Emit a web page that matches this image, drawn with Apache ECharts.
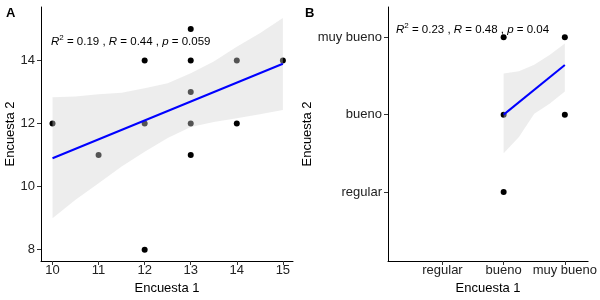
<!DOCTYPE html>
<html>
<head>
<meta charset="utf-8">
<script src="https://cdn.jsdelivr.net/npm/echarts@6/dist/echarts.min.js"></script>
<style>
  html, body { margin: 0; padding: 0; background: #fff; }
  #chart { width: 600px; height: 300px; }
</style>
</head>
<body>
<div id="chart"></div>
<script>
  // Panel A: numeric scores
  var ticksAx = [10, 11, 12, 13, 14, 15]
  var ticksAy = [8, 10, 12, 14]
  var pointsA = [[10, 12], [11, 11], [12, 14], [12, 12], [12, 8], [13, 15], [13, 14],
    [13, 13], [13, 12], [13, 11], [14, 14], [14, 12], [15, 14]]
  var fitAx = [10, 15]
  var fitAy = [10.9, 13.9]
  var bandAx = [10, 10.5, 11, 11.5, 12, 12.5, 13, 13.5, 14, 14.5, 15]
  var bandAlo = [9.0, 9.58, 10.11, 10.64, 11.11, 11.54, 11.89, 12.05, 12.17, 12.3, 12.43]
  var bandAhi = [12.84, 12.86, 12.93, 12.98, 13.12, 13.28, 13.6, 13.97, 14.44, 14.87, 15.35]

  // Panel B: ordered categories coded 1..3
  var levels = ['regular', 'bueno', 'muy bueno']
  var levelCodes = [1, 2, 3]
  var pointsB = [[2, 3], [2, 2], [2, 1], [3, 3], [3, 2]]
  var fitBx = [2, 3]
  var fitBy = [2.0, 2.64]
  var bandBx = [2, 2.25, 2.5, 2.75, 3]
  var bandBlo = [1.5, 1.71, 2.01, 2.14, 2.3]
  var bandBhi = [2.53, 2.56, 2.645, 2.77, 2.92]

  var textColor = '#222'
  var font = 'Liberation Sans, Arial, sans-serif'

  function zip(a, b) {
    return a.map(function (v, i) { return [v, b[i]] })
  }

  function bandSeries(idx, xs, lo, hi) {
    return {
      type: 'custom',
      xAxisIndex: idx,
      yAxisIndex: idx,
      clip: true,
      z: 3,
      silent: true,
      data: xs.map(function (x, i) { return [x, lo[i], hi[i]] }),
      renderItem: function (params, api) {
        if (params.dataIndex !== 0) return
        var pts = []
        for (var i = 0; i < xs.length; i++) pts.push(api.coord([xs[i], hi[i]]))
        for (var j = xs.length - 1; j >= 0; j--) pts.push(api.coord([xs[j], lo[j]]))
        return {
          type: 'polygon',
          shape: { points: pts },
          style: { fill: 'rgba(211,211,211,0.4)' }
        }
      }
    }
  }

  function xAxisOf(idx, min, max, ticks, fmt) {
    return {
      type: 'value', gridIndex: idx, min: min, max: max,
      name: 'Encuesta 1', nameLocation: 'middle', nameGap: 18,
      nameTextStyle: { fontSize: 13, color: '#000', fontFamily: font },
      axisLine: { onZero: false, lineStyle: { color: '#000', width: 1 } },
      axisTick: { length: 4, customValues: ticks, lineStyle: { color: '#333' } },
      axisLabel: { customValues: ticks, formatter: fmt, fontSize: 13, color: textColor, fontFamily: font, margin: 3 },
      splitLine: { show: false }
    }
  }

  function yAxisOf(idx, min, max, ticks, fmt, gap) {
    return {
      type: 'value', gridIndex: idx, min: min, max: max,
      name: 'Encuesta 2', nameLocation: 'middle', nameGap: gap,
      nameTextStyle: { fontSize: 13, color: '#000', fontFamily: font },
      axisLine: { show: true, onZero: false, lineStyle: { color: '#000', width: 1 } },
      axisTick: { show: true, length: 4, customValues: ticks, lineStyle: { color: '#333' } },
      axisLabel: { customValues: ticks, formatter: fmt, fontSize: 13, color: textColor, fontFamily: font, margin: 6 },
      splitLine: { show: false }
    }
  }

  function levelName(v) {
    var i = levelCodes.indexOf(Math.round(v))
    return i >= 0 ? levels[i] : ''
  }

  var rich = {
    i: { fontStyle: 'italic', fontSize: 11.5, fontFamily: font, color: '#000' },
    s: { fontSize: 8, fontFamily: font, color: '#000', padding: [0, 0, 7, 0] },
    n: { fontSize: 11.5, fontFamily: font, color: '#000' }
  }

  var option = {
    animation: false,
    grid: [
      { left: 41, top: 7, width: 252, height: 254 },
      { left: 388, top: 7, width: 205, height: 254 }
    ],
    xAxis: [
      xAxisOf(0, 9.75, 15.22, ticksAx, function (v) { return String(v) }),
      xAxisOf(1, 0.11, 3.38, levelCodes, levelName)
    ],
    yAxis: [
      yAxisOf(0, 7.64, 15.7, ticksAy, function (v) { return String(v) }, 23),
      yAxisOf(1, 0.11, 3.39, levelCodes, levelName, 71)
    ],
    graphic: [
      { type: 'text', left: 6, top: 7, style: { text: 'A', fontSize: 13, fontWeight: 'bold', fontFamily: font, fill: '#000' } },
      { type: 'text', left: 305, top: 7, style: { text: 'B', fontSize: 13, fontWeight: 'bold', fontFamily: font, fill: '#000' } },
      { type: 'text', left: 51, top: 34, z: 10, style: {
        text: '{i|R}{s|2}{n| = 0.19 , }{i|R}{n| = 0.44 , }{i|p}{n| = 0.059}', rich: rich } },
      { type: 'text', left: 396, top: 22, z: 10, style: {
        text: '{i|R}{s|2}{n| = 0.23 , }{i|R}{n| = 0.48 , }{i|p}{n| = 0.04}', rich: rich } }
    ],
    series: [
      { type: 'scatter', xAxisIndex: 0, yAxisIndex: 0, z: 2, symbolSize: 6,
        itemStyle: { color: '#000', opacity: 1 }, data: pointsA },
      bandSeries(0, bandAx, bandAlo, bandAhi),
      { type: 'line', xAxisIndex: 0, yAxisIndex: 0, z: 4, showSymbol: false,
        lineStyle: { color: '#0000ff', width: 2 }, data: zip(fitAx, fitAy) },
      { type: 'scatter', xAxisIndex: 1, yAxisIndex: 1, z: 2, symbolSize: 6,
        itemStyle: { color: '#000', opacity: 1 }, data: pointsB },
      bandSeries(1, bandBx, bandBlo, bandBhi),
      { type: 'line', xAxisIndex: 1, yAxisIndex: 1, z: 4, showSymbol: false,
        lineStyle: { color: '#0000ff', width: 2 }, data: zip(fitBx, fitBy) }
    ]
  }

  var chart = echarts.init(document.getElementById('chart'))
  chart.setOption(option)
</script>
</body>
</html>
